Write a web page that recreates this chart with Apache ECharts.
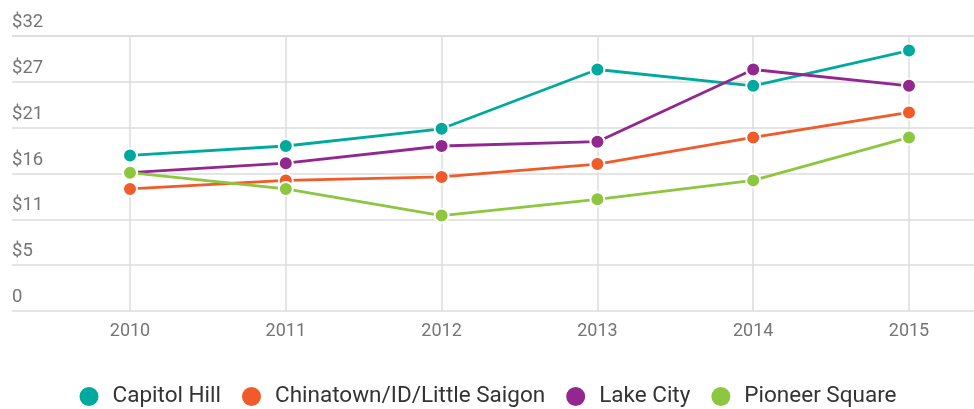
<!DOCTYPE html>
<html>
<head>
<meta charset="utf-8">
<script src="https://cdn.jsdelivr.net/npm/echarts@6/dist/echarts.min.js"></script>
<style>
  html, body { margin: 0; padding: 0; background: #fff; }
  #chart { width: 974px; height: 409px; }
</style>
</head>
<body>
<div id="chart"></div>
<script>
// categories and series values (median rent per sq ft)
const years = ['2010', '2011', '2012', '2013', '2014', '2015'];
const capitolHill = [18.1, 19.2, 21.2, 28.1, 26.2, 30.3];
const chinatown = [14.2, 15.2, 15.6, 17.1, 20.2, 23.1];
const lakeCity = [16.1, 17.2, 19.2, 19.7, 28.1, 26.2];
const pioneerSquare = [16.1, 14.2, 11.1, 13.0, 15.2, 20.2];

const yMax = 32;
const ySteps = 6;

const colors = ['#00a99d', '#f15a29', '#92278f', '#8dc63f'];
const font = 'Roboto, "Noto Sans", sans-serif';

function line(name, data, color) {
  return {
    name: name,
    type: 'line',
    xAxisIndex: 1,
    yAxisIndex: 1,
    data: data,
    symbol: 'circle',
    symbolSize: 14,
    lineStyle: { width: 2.8, color: color },
    itemStyle: { color: color, borderColor: '#fff', borderWidth: 2 },
    emphasis: { disabled: true },
    z: 3
  };
}

const chart = echarts.init(document.getElementById('chart'));
chart.setOption({
  animation: false,
  color: colors,
  legend: {
    top: 380,
    left: 'center',
    icon: 'circle',
    itemWidth: 21,
    itemHeight: 21,
    itemGap: 19,
    textStyle: { fontFamily: font, fontSize: 22.5, color: '#333', padding: [0, 0, 0, 8] },
    data: ['Capitol Hill', 'Chinatown/ID/Little Saigon', 'Lake City', 'Pioneer Square']
  },
  grid: [
    // background grid: horizontal lines and y labels, full width
    { left: 12, right: 0, top: 36, bottom: 98 },
    // data grid: categories land on the year columns
    { left: 130, right: 65, top: 36, bottom: 98 }
  ],
  xAxis: [
    { gridIndex: 0, type: 'value', show: false, min: 0, max: 1 },
    {
      gridIndex: 1,
      type: 'category',
      data: years,
      boundaryGap: false,
      axisLine: { show: false },
      axisTick: { show: false },
      axisLabel: { color: '#757575', fontFamily: font, fontSize: 18, margin: 11 },
      splitLine: { show: true, lineStyle: { color: '#dcdcdc', width: 1.5 } }
    }
  ],
  yAxis: [
    {
      gridIndex: 0,
      type: 'value',
      min: 0,
      max: yMax,
      interval: yMax / ySteps,
      axisLine: { show: false },
      axisTick: { show: false },
      axisLabel: {
        inside: true,
        margin: 0,
        verticalAlign: 'bottom',
        padding: [0, 0, 4, 0],
        color: '#757575',
        fontFamily: font,
        fontSize: 18.5,
        formatter: v => v === 0 ? '0' : '$' + Math.round(v)
      },
      splitLine: { lineStyle: { color: '#dcdcdc', width: 1.5 } }
    },
    { gridIndex: 1, type: 'value', min: 0, max: yMax, show: false }
  ],
  series: [
    line('Capitol Hill', capitolHill, colors[0]),
    line('Chinatown/ID/Little Saigon', chinatown, colors[1]),
    line('Lake City', lakeCity, colors[2]),
    line('Pioneer Square', pioneerSquare, colors[3])
  ]
});
</script>
</body>
</html>
